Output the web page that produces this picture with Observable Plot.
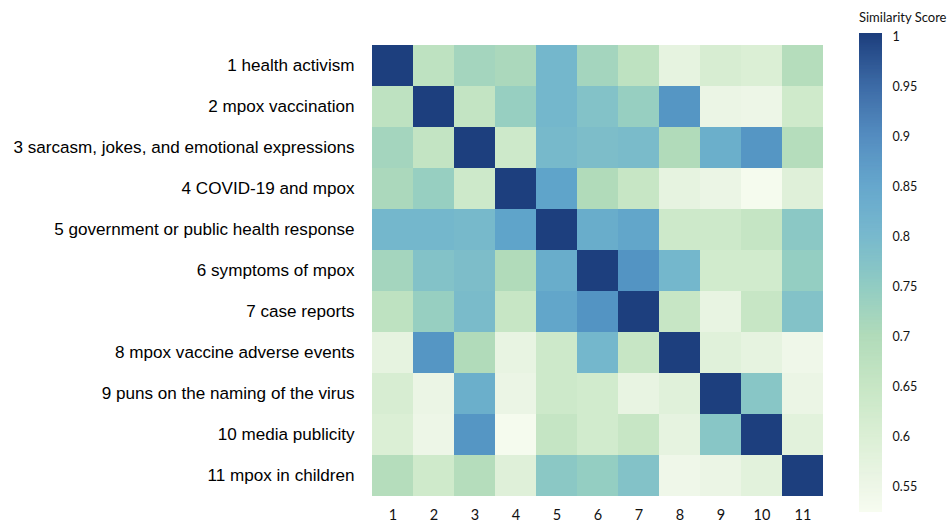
<!DOCTYPE html>
<html>
<head>
<meta charset="utf-8">
<script src="https://cdn.jsdelivr.net/npm/d3@7"></script>
<script src="https://cdn.jsdelivr.net/npm/@observablehq/plot@0.6"></script>
<style>
  html, body { margin: 0; padding: 0; background: #fff; overflow: hidden; }
  #wrap { position: relative; width: 949px; height: 523px; }
  #main { position: absolute; left: 0; top: 0; }
  #bar { position: absolute; left: 858px; top: 0; }
  #bartitle { position: absolute; left: 859px; top: 9px; font: 13px Lato, "Open Sans", sans-serif; color: #111; white-space: nowrap; }
</style>
</head>
<body>
<div id="wrap">
  <div id="main"></div>
  <div id="bar"></div>
  <div id="bartitle">Similarity Score</div>
</div>
<script>
// Topic names (rows, top to bottom)
const topics = [
  "1 health activism",
  "2 mpox vaccination",
  "3 sarcasm, jokes, and emotional expressions",
  "4 COVID-19 and mpox",
  "5 government or public health response",
  "6 symptoms of mpox",
  "7 case reports",
  "8 mpox vaccine adverse events",
  "9 puns on the naming of the virus",
  "10 media publicity",
  "11 mpox in children"
];
// Column tick labels
const columns = ["1","2","3","4","5","6","7","8","9","10","11"];
// Similarity matrix (row i, column j)
const similarity = [
  [1.00, 0.67, 0.72, 0.71, 0.80, 0.72, 0.67, 0.57, 0.61, 0.60, 0.69],
  [0.67, 1.00, 0.66, 0.74, 0.80, 0.775, 0.74, 0.87, 0.555, 0.55, 0.63],
  [0.72, 0.66, 1.00, 0.635, 0.795, 0.785, 0.79, 0.70, 0.82, 0.87, 0.69],
  [0.71, 0.74, 0.635, 1.00, 0.845, 0.70, 0.65, 0.57, 0.555, 0.53, 0.59],
  [0.80, 0.80, 0.795, 0.845, 1.00, 0.825, 0.84, 0.635, 0.635, 0.655, 0.76],
  [0.72, 0.775, 0.785, 0.70, 0.825, 1.00, 0.875, 0.80, 0.625, 0.625, 0.745],
  [0.67, 0.74, 0.79, 0.65, 0.84, 0.875, 1.00, 0.65, 0.565, 0.65, 0.775],
  [0.57, 0.87, 0.70, 0.565, 0.635, 0.80, 0.65, 1.00, 0.585, 0.57, 0.545],
  [0.61, 0.555, 0.82, 0.555, 0.635, 0.625, 0.565, 0.585, 1.00, 0.765, 0.555],
  [0.60, 0.55, 0.87, 0.53, 0.655, 0.625, 0.65, 0.57, 0.765, 1.00, 0.58],
  [0.69, 0.63, 0.69, 0.59, 0.76, 0.745, 0.775, 0.545, 0.555, 0.58, 1.00]
];
// Colour bar tick labels
const legendTicks = [0.55, 0.6, 0.65, 0.7, 0.75, 0.8, 0.85, 0.9, 0.95, 1];
const legendExtent = [0.524, 1.003];

// Colour ramp (style)
const rampStops = [0.524, 0.55, 0.60, 0.65, 0.70, 0.75, 0.80, 0.85, 0.90, 0.95, 1.003];
const rampColors = ["#f7fcf0", "#edf6e7", "#dbefd5", "#c7e6c5", "#b1dbba", "#91ccc3", "#74b7cc", "#5da2ca", "#4985bc", "#3464a2", "#1c3d7c"];
const colorScale = {type: "linear", domain: rampStops, range: rampColors, interpolate: "rgb"};

const cells = [];
similarity.forEach((row, i) => row.forEach((v, j) => cells.push({row: topics[i], col: columns[j], value: v})));

const main = Plot.plot({
  width: 949,
  height: 523,
  marginLeft: 371,
  marginRight: 125,
  marginTop: 43,
  marginBottom: 26,
  style: {background: "transparent"},
  x: {domain: columns, padding: 0, label: null, axis: null},
  y: {domain: topics, padding: 0, label: null, axis: null},
  color: colorScale,
  marks: [
    Plot.cell(cells, {x: "col", y: "row", fill: "value", inset: 0}),
    Plot.axisX({anchor: "bottom", tickSize: 0, tickPadding: 12, fontSize: 14.5, fill: "#111", label: null,
      fontFamily: "Lato, 'Open Sans', sans-serif"}),
    Plot.axisY({anchor: "left", tickSize: 0, tickPadding: 17, fontSize: 17.1, fill: "#000", label: null,
      fontFamily: "'Liberation Sans', Arial, sans-serif"})
  ]
});
document.getElementById("main").appendChild(main);

// Colour bar
const steps = d3.range(0, 480).map(k => legendExtent[0] + (legendExtent[1] - legendExtent[0]) * k / 480);
const dv = (legendExtent[1] - legendExtent[0]) / 480;
const bar = Plot.plot({
  width: 91,
  height: 523,
  marginLeft: 1,
  marginRight: 67,
  marginTop: 33,
  marginBottom: 11,
  style: {background: "transparent"},
  x: {domain: [0, 1], axis: null},
  y: {domain: legendExtent, label: null, axis: null},
  color: colorScale,
  marks: [
    Plot.rect(steps, {x1: 0, x2: 1, y1: d => d, y2: d => Math.min(d + dv * 1.5, legendExtent[1]), fill: d => d}),
    Plot.axisY({anchor: "right", ticks: legendTicks, tickSize: 0, tickPadding: 10, fontSize: 12.5, fill: "#111",
      tickFormat: d => String(d), label: null, fontFamily: "Lato, 'Open Sans', sans-serif"})
  ]
});
document.getElementById("bar").appendChild(bar);
</script>
</body>
</html>
